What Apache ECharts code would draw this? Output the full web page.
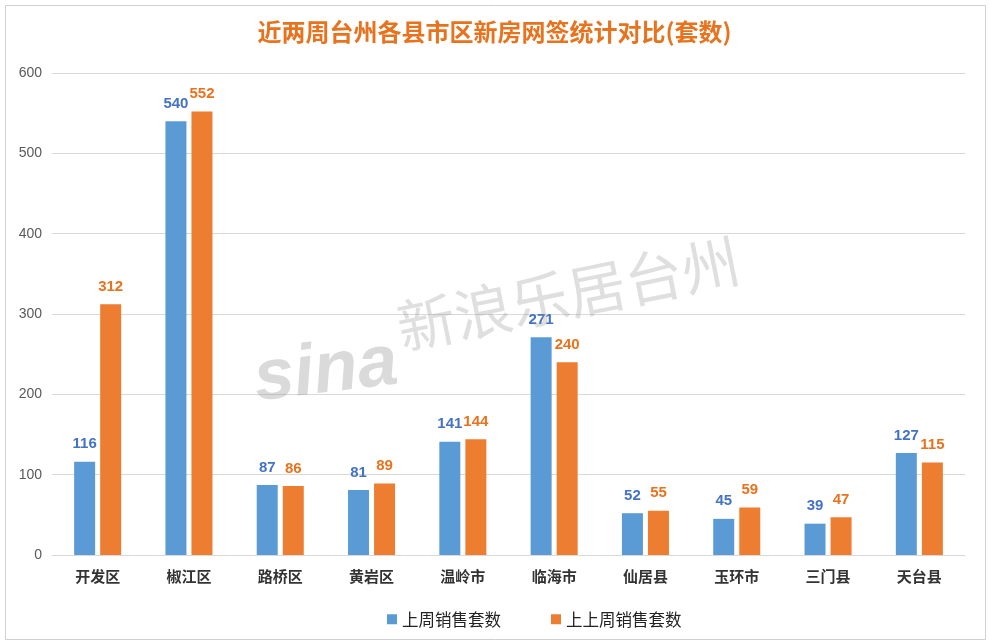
<!DOCTYPE html>
<html><head><meta charset="utf-8">
<script src="https://cdn.jsdelivr.net/npm/echarts@6/dist/echarts.min.js"></script>
<style>html,body{margin:0;padding:0;background:#fff}#c{width:989px;height:644px}</style>
</head><body><div id="c"></div>
<script>
const categories = ['开发区','椒江区','路桥区','黄岩区','温岭市','临海市','仙居县','玉环市','三门县','天台县'];
const lastWeek = [116,540,87,81,141,271,52,45,39,127];
const weekBefore = [312,552,86,89,144,240,55,59,47,115];
const seriesNames = ['上周销售套数','上上周销售套数'];
const titleText = '近两周台州各县市区新房网签统计对比(套数)';

const chart = echarts.init(document.getElementById('c'));
chart.setOption({
  backgroundColor: '#fff',
  animation: false,
  title: {
    text: titleText, left: 'center', top: 15,
    textStyle: {color: '#E8731E', fontSize: 24, fontWeight: 'bold', fontFamily: 'Noto Sans CJK SC'}
  },
  legend: {
    data: seriesNames, left: 382, top: 606, itemWidth: 10, itemHeight: 10, itemGap: 50,
    icon: 'rect',
    textStyle: {color: '#222', fontSize: 16.5, fontFamily: 'Noto Sans CJK SC'}
  },
  grid: {left: 52, right: 24, top: 73, bottom: 89, containLabel: false},
  xAxis: {
    type: 'category', data: categories,
    axisLine: {lineStyle: {color: '#d9d9d9'}}, axisTick: {show: false},
    axisLabel: {color: '#333', fontSize: 15, fontWeight: 'bold', margin: 14, fontFamily: 'Noto Sans CJK SC'}
  },
  yAxis: {
    type: 'value', min: 0, max: 600, interval: 100,
    axisLine: {show: false}, axisTick: {show: false},
    axisLabel: {color: '#595959', fontSize: 14, margin: 10, fontFamily: 'Liberation Sans'},
    splitLine: {lineStyle: {color: '#d9d9d9'}}
  },
  series: [
    {name: seriesNames[0], type: 'bar', data: lastWeek, barWidth: 21, barGap: '24%',
     itemStyle: {color: '#5B9BD5'},
     label: {show: true, position: 'top', distance: 10, color: '#4472C4', fontWeight: 'bold', fontSize: 15, fontFamily: 'Liberation Sans'}},
    {name: seriesNames[1], type: 'bar', data: weekBefore, barWidth: 21,
     itemStyle: {color: '#ED7D31'},
     label: {show: true, position: 'top', distance: 10, color: '#E8731E', fontWeight: 'bold', fontSize: 15, fontFamily: 'Liberation Sans'}}
  ],
  graphic: [
    {type: 'rect', left: 3, top: 3, shape: {width: 980, height: 634}, style: {fill: 'none', stroke: '#d0d0d0', lineWidth: 1}, silent: true, z: -1},
    {type: 'text', x: 250, y: 345, rotation: 0.12, silent: true, z: 10,
     style: {text: 'sina', fill: 'rgba(150,150,150,0.35)', font: 'italic bold 72px Liberation Sans'}},
    {type: 'text', x: 392, y: 300, rotation: 0.2, silent: true, z: 10,
     style: {text: '新浪乐居台州', fill: 'rgba(150,150,150,0.3)', font: '58px Noto Sans CJK SC'}}
  ]
});
</script></body></html>
